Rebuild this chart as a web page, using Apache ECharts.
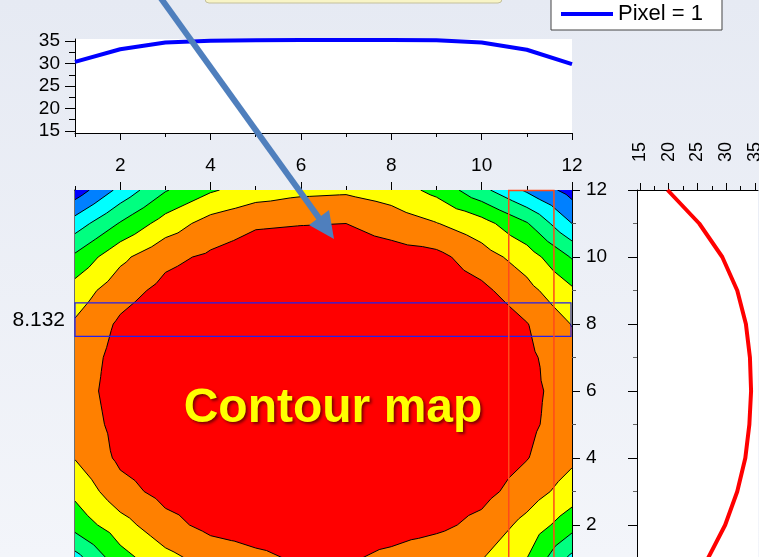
<!DOCTYPE html>
<html>
<head>
<meta charset="utf-8">
<script src="https://cdn.jsdelivr.net/npm/echarts@6/dist/echarts.min.js"></script>
<style>
  html, body { margin: 0; padding: 0; }
  #chart { width: 759px; height: 557px; }
</style>
</head>
<body>
<div id="chart"></div>
<script>
// grid nodes of the contour map (x and y run 1..12)
var gridX = [1, 2, 3, 4, 5, 6, 7, 8, 9, 10, 11, 12];
var gridY = [1, 2, 3, 4, 5, 6, 7, 8, 9, 10, 11, 12];
// z values, one row per y (bottom row first)
var zRows = [
  [21.5, 26.5, 29.2, 31.0, 32.0, 32.8, 32.8, 31.9, 30.8, 30.1, 27.5, 21.8],
  [26.0, 29.0, 31.7, 33.2, 33.6, 33.8, 33.8, 33.6, 33.1, 31.8, 29.2, 26.0],
  [28.1, 31.6, 33.3, 33.9, 34.3, 34.5, 34.5, 34.3, 33.9, 33.3, 31.3, 28.8],
  [30.1, 33.0, 34.0, 34.6, 35.0, 35.1, 35.1, 35.0, 34.7, 34.0, 32.6, 30.5],
  [31.0, 33.3, 34.5, 35.1, 35.4, 35.5, 35.5, 35.4, 35.2, 34.6, 33.0, 31.3],
  [31.3, 33.6, 34.7, 35.3, 35.6, 35.7, 35.7, 35.6, 35.4, 34.9, 33.1, 31.5],
  [31.0, 33.4, 34.5, 35.1, 35.5, 35.6, 35.6, 35.5, 35.3, 34.8, 33.0, 31.0],
  [30.3, 32.9, 34.4, 35.0, 35.3, 35.4, 35.4, 35.3, 35.2, 34.7, 32.6, 29.9],
  [28.6, 31.5, 33.2, 34.0, 34.5, 34.7, 34.7, 34.5, 34.1, 33.1, 30.8, 27.9],
  [25.5, 29.4, 31.9, 32.9, 33.8, 34.0, 34.0, 33.6, 33.2, 31.1, 28.8, 24.8],
  [21.2, 25.2, 28.6, 31.0, 32.2, 32.4, 32.5, 31.4, 30.1, 28.5, 25.2, 20.0],
  [16.0, 20.7, 24.8, 27.2, 28.7, 29.4, 29.6, 28.8, 26.8, 23.2, 19.6, 16.5]
];
var levels = [17.5, 20, 22.5, 25, 27.5, 30, 32.5];
var bandColors = ['#0000ff', '#0080ff', '#00ffff', '#00ff80', '#00ff00', '#ffff00', '#ff8000', '#ff0000'];

// horizontal profile (top) and vertical profile (right)
var topX = [1, 2, 3, 4, 5, 6, 7, 8, 9, 10, 11, 12];
var topProfile = [30.4, 33.2, 34.7, 35.1, 35.2, 35.3, 35.3, 35.3, 35.2, 34.7, 33.1, 29.9];
var sideY = [1, 2, 3, 4, 5, 6, 7, 8, 9, 10, 11, 12];
var sideProfile = [26.8, 29.8, 31.9, 33.3, 34.0, 34.3, 34.1, 33.4, 31.9, 29.3, 25.3, 19.8];

// cut positions
var cutRow = 8.132;
var cutCol = 11.1;
var cutHalf = 0.5;

// tick values
var posTicks = [2, 4, 6, 8, 10, 12];
var posMinor = [1, 3, 5, 7, 9, 11];
var valTicks = [15, 20, 25, 30, 35];
var valMinor = [17.5, 22.5, 27.5, 32.5];

var FONT = "'Liberation Sans', Arial, sans-serif";

// split every cell into 4 triangles round its centre
var tris = [];
for (var j = 0; j < gridY.length - 1; j++) {
  for (var i = 0; i < gridX.length - 1; i++) {
    var a = [gridX[i], gridY[j], zRows[j][i]];
    var b = [gridX[i + 1], gridY[j], zRows[j][i + 1]];
    var c = [gridX[i + 1], gridY[j + 1], zRows[j + 1][i + 1]];
    var d = [gridX[i], gridY[j + 1], zRows[j + 1][i]];
    var m = [(a[0] + b[0]) / 2, (a[1] + d[1]) / 2, (a[2] + b[2] + c[2] + d[2]) / 4];
    tris.push([a, b, m], [b, c, m], [c, d, m], [d, a, m]);
  }
}

function clipTri(t, lv) {
  var out = [];
  for (var k = 0; k < 3; k++) {
    var p = t[k], q = t[(k + 1) % 3];
    var pin = p[2] >= lv, qin = q[2] >= lv;
    if (pin) out.push([p[0], p[1]]);
    if (pin !== qin) {
      var f = (lv - p[2]) / (q[2] - p[2]);
      out.push([p[0] + f * (q[0] - p[0]), p[1] + f * (q[1] - p[1])]);
    }
  }
  return out;
}

function crossTri(t, lv) {
  var out = [];
  for (var k = 0; k < 3; k++) {
    var p = t[k], q = t[(k + 1) % 3];
    if ((p[2] >= lv) !== (q[2] >= lv)) {
      var f = (lv - p[2]) / (q[2] - p[2]);
      out.push([p[0] + f * (q[0] - p[0]), p[1] + f * (q[1] - p[1])]);
    }
  }
  return out;
}

function px(api, p) {
  var c = api.coord(p);
  return c[0].toFixed(2) + ' ' + c[1].toFixed(2);
}

function renderContour(params, api) {
  var k = params.dataIndex;
  var x0 = gridX[0], x1 = gridX[gridX.length - 1];
  var y0 = gridY[0], y1 = gridY[gridY.length - 1];
  if (k === 0) {
    var p0 = api.coord([x0, y0]), p1 = api.coord([x1, y1]);
    return {
      type: 'rect',
      shape: { x: p0[0], y: p1[1], width: p1[0] - p0[0], height: p0[1] - p1[1] },
      style: { fill: bandColors[0] }
    };
  }
  var d = '';
  if (k <= levels.length) {
    var lv = levels[k - 1];
    tris.forEach(function(t) {
      var pts = clipTri(t, lv);
      if (pts.length < 3) return;
      pts.forEach(function(p, n) {
        d += (n ? 'L' : 'M') + px(api, p);
      });
      d += 'Z';
    });
    if (!d) return null;
    return { type: 'path', shape: { pathData: d }, style: { fill: bandColors[k] } };
  }
  levels.forEach(function(lv) {
    tris.forEach(function(t) {
      var seg = crossTri(t, lv);
      if (seg.length === 2) d += 'M' + px(api, seg[0]) + 'L' + px(api, seg[1]);
    });
  });
  return {
    type: 'path',
    shape: { pathData: d },
    style: { fill: 'none', stroke: '#000', lineWidth: 1 }
  };
}

function renderCuts(params, api) {
  var a = api.coord([gridX[0], cutRow - cutHalf]);
  var b = api.coord([gridX[gridX.length - 1], cutRow + cutHalf]);
  var c = api.coord([cutCol - cutHalf, gridY[0]]);
  var e = api.coord([cutCol + cutHalf, gridY[gridY.length - 1]]);
  var mid = api.coord([gridX[0], cutRow]);
  return {
    type: 'group',
    children: [
      {
        type: 'rect',
        shape: { x: a[0], y: b[1], width: b[0] - a[0] - 1, height: a[1] - b[1] },
        style: { fill: 'none', stroke: '#2222ee', lineWidth: 1.2 }
      },
      {
        type: 'rect',
        shape: { x: c[0], y: e[1] + 0.5, width: e[0] - c[0], height: c[1] - e[1] },
        style: { fill: 'none', stroke: '#ff4a1a', lineWidth: 1.5 }
      },
      {
        type: 'text',
        x: mid[0] - 10,
        y: mid[1] + 1,
        style: {
          text: String(cutRow), fill: '#000', fontSize: 21, fontFamily: FONT,
          align: 'right', verticalAlign: 'middle'
        }
      }
    ]
  };
}

function tickAxis(gridIndex, position, min, max, values, len, color) {
  return {
    type: 'value', gridIndex: gridIndex, position: position, min: min, max: max,
    axisLine: { show: false, onZero: false },
    axisLabel: { show: false },
    splitLine: { show: false },
    axisTick: { show: true, customValues: values, length: len, lineStyle: { color: color || '#000' } }
  };
}

function mainAxis(gridIndex, position, min, max, ticks, len, label) {
  return {
    type: 'value', gridIndex: gridIndex, position: position, min: min, max: max,
    axisLine: { show: true, onZero: false, lineStyle: { color: '#000', width: 1 } },
    axisTick: { show: true, customValues: ticks, length: len, lineStyle: { color: '#000' } },
    axisLabel: label || { show: false },
    splitLine: { show: false }
  };
}

function labels(values, margin, extra) {
  var l = { show: true, customValues: values, margin: margin, color: '#000', fontSize: 19, fontFamily: FONT };
  for (var key in extra) l[key] = extra[key];
  return l;
}

var chart = echarts.init(document.getElementById('chart'));

var contourLayers = [];
for (var k = 0; k <= levels.length + 1; k++) contourLayers.push([k]);

chart.setOption({
  animation: false,
  backgroundColor: {
    type: 'linear', x: 0, y: 0, x2: 0, y2: 1,
    colorStops: [{ offset: 0, color: '#e6eaf3' }, { offset: 1, color: '#f3f5fa' }]
  },
  textStyle: { fontFamily: FONT },
  legend: {
    data: ['Pixel = 1'],
    left: 551, top: -7,
    icon: 'rect', itemWidth: 52, itemHeight: 4,
    backgroundColor: '#fff', borderColor: '#444', borderWidth: 1, borderRadius: 0,
    padding: [10, 19, 5, 10],
    textStyle: { fontSize: 22, color: '#000', fontFamily: FONT }
  },
  grid: [
    { left: 75, top: 39, width: 497, height: 94, show: true, backgroundColor: '#fff', borderWidth: 0, outerBoundsMode: 'none' },
    { left: 75, top: 190, width: 497, height: 368.5, show: false, outerBoundsMode: 'none' },
    { left: 637, top: 190, width: 121, height: 368.5, show: true, backgroundColor: '#fff', borderWidth: 0, outerBoundsMode: 'none' }
  ],
  xAxis: [
    mainAxis(0, 'bottom', 1, 12, posTicks, 7, labels(posTicks, 23)),
    tickAxis(0, 'bottom', 1, 12, posMinor, 4),
    mainAxis(1, 'top', 1, 12, posTicks, 8),
    tickAxis(1, 'top', 1, 12, posMinor, 4),
    mainAxis(2, 'top', 14.5, 35.5, valTicks, 7, labels(valTicks, 28, { rotate: -90, fontSize: 18 })),
    tickAxis(2, 'top', 14.5, 35.5, valMinor, 4)
  ],
  yAxis: [
    mainAxis(0, 'left', 14.5, 35.5, valTicks, 10, labels(valTicks, 15)),
    tickAxis(0, 'left', 14.5, 35.5, valMinor, 6),
    mainAxis(1, 'right', 1, 12, posTicks, 8, labels(posTicks, 14)),
    tickAxis(1, 'right', 1, 12, posMinor, 4, '#555'),
    mainAxis(2, 'left', 1, 12, posTicks, 9),
    tickAxis(2, 'left', 1, 12, posMinor, 4, '#666'),
    {
      type: 'value', gridIndex: 1, position: 'left', min: 1, max: 12,
      axisLine: { show: true, onZero: false, lineStyle: { color: '#444', width: 1.5 } },
      axisTick: { show: false }, axisLabel: { show: false }, splitLine: { show: false }
    }
  ],
  series: [
    {
      type: 'custom', xAxisIndex: 2, yAxisIndex: 2, silent: true, clip: true, z: 1,
      renderItem: renderContour, data: contourLayers
    },
    {
      type: 'custom', xAxisIndex: 2, yAxisIndex: 2, silent: true, clip: false, z: 3,
      renderItem: renderCuts, data: [[0]]
    },
    {
      name: 'Pixel = 1', type: 'line', xAxisIndex: 0, yAxisIndex: 0, symbol: 'none',
      data: topX.map(function(x, n) { return [x, topProfile[n]]; }),
      lineStyle: { color: '#0000ff', width: 4 }, itemStyle: { color: '#0000ff' }, z: 4
    },
    {
      type: 'line', xAxisIndex: 4, yAxisIndex: 4, symbol: 'none',
      data: sideY.map(function(y, n) { return [sideProfile[n], y]; }),
      lineStyle: { color: '#ff0000', width: 4 }, itemStyle: { color: '#ff0000' }, z: 4
    }
  ],
  graphic: [
    {
      type: 'rect', z: 50,
      shape: { x: 205, y: -20, width: 297, height: 23, r: 4 },
      style: { fill: '#f8f4c6', stroke: '#c4c09c', lineWidth: 1 }
    },
    {
      type: 'text', z: 50, x: 333, y: 409,
      style: {
        text: 'Contour map', fill: '#ffff00',
        font: "bold 48px 'Liberation Sans', Arial, sans-serif",
        align: 'center', verticalAlign: 'middle',
        textShadowColor: 'rgba(80,0,0,0.75)', textShadowBlur: 3,
        textShadowOffsetX: 2, textShadowOffsetY: 2
      }
    },
    {
      type: 'line', z: 60,
      shape: { x1: 160, y1: -3, x2: 319, y2: 218 },
      style: { stroke: '#4f7fbd', lineWidth: 6 }
    },
    {
      type: 'polygon', z: 60,
      shape: { points: [[334, 239], [309, 225], [329, 210]] },
      style: { fill: '#4f7fbd' }
    }
  ]
});
</script>
</body>
</html>
